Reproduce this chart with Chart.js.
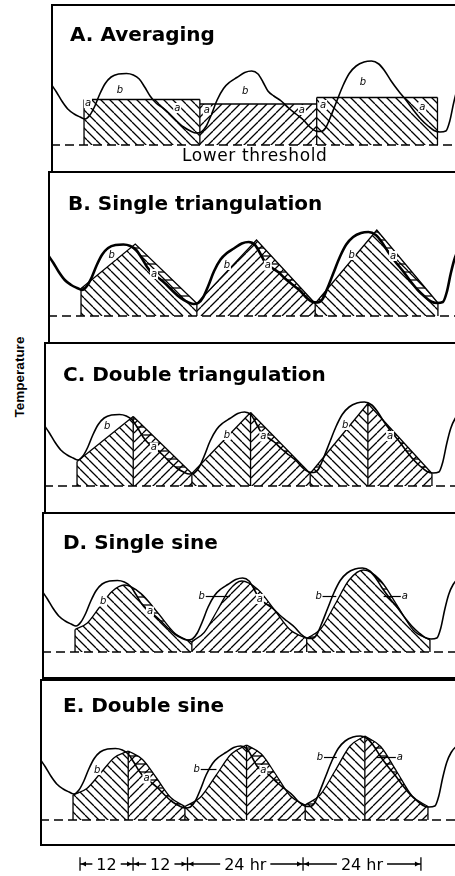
<!DOCTYPE html>
<html><head><meta charset="utf-8">
<script src="https://cdn.jsdelivr.net/npm/chart.js@4/dist/chart.umd.min.js"></script>
<style>
html,body{margin:0;padding:0;background:#fff;overflow:hidden;width:455px;height:876px;}
.panel{position:absolute;border:2px solid #000;box-sizing:border-box;}
canvas{position:absolute;}
.title{position:absolute;font:bold 20px "DejaVu Sans";line-height:20px;white-space:nowrap;color:#000;z-index:3;}
.note{position:absolute;font:17px "DejaVu Sans";line-height:17px;white-space:nowrap;color:#000;letter-spacing:0.6px;z-index:3;}
.ylab{position:absolute;left:-30px;top:369px;width:100px;text-align:center;font:bold 13.5px "Liberation Sans";line-height:16px;transform:rotate(-90deg);white-space:nowrap;}
</style></head><body>
<div class="ylab">Temperature</div>
<script>
// ---------------- data (hours from first minimum, temperature units above lower threshold) ----------------
const XMIN = -6.7, XMAX = 78.5;
const lowerThreshold = 0;
const hours = [-6.7,-5.6,-4.5,-3.3,-2.0,-0.8,0.2,1.2,2.2,3.2,4.3,5.5,7.0,8.6,10.0,11.2,12.3,13.4,14.6,16.0,17.4,18.8,20.2,21.6,22.8,23.8,24.8,25.8,27.0,28.3,29.6,31.0,32.6,34.0,35.3,36.3,37.3,38.5,40.0,41.5,43.0,44.5,45.8,47.0,48.0,49.0,50.0,51.2,52.5,53.8,55.2,56.8,58.3,59.8,61.0,62.3,63.8,65.3,66.8,68.3,69.8,71.0,72.2,73.4,74.2,75.0,75.8,76.7,78.5];
const temperature = [12.2,10.6,8.8,7.2,6.2,5.6,5.2,6.0,7.8,10.2,12.3,13.6,14.2,14.3,14.0,13.2,11.6,9.8,8.4,7.4,6.2,4.8,3.6,2.8,2.4,2.6,3.8,6.0,9.0,11.3,12.6,13.5,14.5,14.8,14.2,12.6,10.8,9.8,8.8,7.4,6.2,5.0,3.6,2.8,2.7,3.4,5.6,8.6,11.8,14.3,15.8,16.6,16.8,16.2,14.8,12.8,10.8,9.0,7.0,5.2,3.8,2.9,2.6,2.8,4.8,8.5,11.5,13.5,15.5];

// A. Averaging
const avgStartHour = [0, 23.5, 47.2];
const avgEndHour = [23.5, 47.2, 71.7];
const avgTemp = [9.1, 8.2, 9.5];

// B. Single triangulation
const triStartHour = [0, 23.5, 47.5];
const triStartTemp = [5.5, 2.5, 2.5];
const triPeakHour = [11, 35.6, 60];
const triPeakTemp = [14.4, 15.2, 17.2];
const triEndHour = [23.5, 47.5, 72.4];
const triEndTemp = [2.5, 2.5, 2.6];

// C. Double triangulation
const dtriStartHour = [0, 23.3, 47.3];
const dtriStartTemp = [4.9, 2.5, 2.5];
const dtriPeakHour = [11.4, 35.2, 59];
const dtriPeakTemp = [13.9, 14.7, 16.5];
const dtriEndHour = [23.3, 47.3, 72];
const dtriEndTemp = [2.5, 2.5, 2.5];

// D. Single sine
const sineHours = [[0,2.5,5,7.5,10,13.4,16.9,20.3,23.7],[23.7,26.2,28.8,31.3,33.8,37.1,40.4,43.7,47],[47,49.9,52.8,55.6,58.5,61.9,65.3,68.6,72]];
const sineTemp = [[4.5,5.8,9,12.1,13.4,11.7,7.7,3.7,2],[2.1,3.9,8.2,12.4,14.2,12.5,8.5,4.4,2.7],[2.7,4.7,9.6,14.4,16.4,14.4,9.4,4.4,2.4]];

// E. Double sine
const dsineRiseHours = [[0,2.8,5.6,8.4,11.2],[22.7,25.8,29,32.1,35.2],[47.1,50.1,53.2,56.2,59.2]];
const dsineRiseTemp = [[5,6.3,9.4,12.5,13.8],[2.7,4.5,8.9,13.2,15],[3,5,9.9,14.8,16.8]];
const dsineFallHours = [[11.2,14.1,17,19.8,22.7],[35.2,38.2,41.2,44.1,47.1],[59.2,62.4,65.6,68.8,72]];
const dsineFallTemp = [[13.8,12.1,8.3,4.5,2.7],[15,13.2,9,4.8,3],[16.8,14.7,9.8,4.8,2.7]];

// a / b area labels (hour, temperature)
const lettersA = [['b',7.3,11],['b',32.7,10.8],['b',56.6,12.6],['a',0.8,8.4],['a',18.9,7.4],['a',24.9,7],['a',44.2,7],['a',48.5,8],['a',68.6,7.6]];
const lettersB = [['b',6.2,12.2],['a',14.8,8.4],['b',29.6,10.2],['a',37.9,10.1],['b',54.9,12.2],['a',63.3,12]];
const lettersC = [['b',6.1,11.9],['a',15.6,7.7],['b',30.4,10.2],['a',37.8,9.9],['b',54.4,12.2],['a',63.5,10]];
const lettersD = [['b',5.7,10.1],['a',15.2,8.1],['b',25.7,11.1,31.4],['a',37.5,10.6],['b',49.4,11.1,53],['a',66.9,11.1,62.6]];
const lettersE = [['b',4.9,10],['a',14.9,8.3],['b',25.1,10.1,29.1],['a',38.6,10],['b',50.1,12.5,53.5],['a',66.3,12.5,61.6]];

// bottom time spans
const spanBounds = [0, 11.2, 22.7, 47.1, 72];
const spanLabels = ['12', '12', '24 hr', '24 hr'];

const panelTitles = ['A. Averaging','B. Single triangulation','C. Double triangulation','D. Single sine','E. Double sine'];

// ---------------- helpers ----------------
function pattern(ctx, dir) {
  const s = dir === '-' ? 8 : 9;
  const c = document.createElement('canvas'); c.width = s; c.height = s;
  const g = c.getContext('2d'); g.strokeStyle = '#000'; g.lineWidth = 1.3;
  g.beginPath();
  if (dir === '-') { g.moveTo(0, 4); g.lineTo(s, 4); }
  else {
    for (const o of [-s, 0, s]) {
      if (dir === '\\') { g.moveTo(o, 0); g.lineTo(o + s, s); }
      else { g.moveTo(o + s, 0); g.lineTo(o, s); }
    }
  }
  g.stroke();
  return ctx.createPattern(c, 'repeat');
}
function pts(xs, ys) { return xs.map((x, i) => ({x: x, y: ys[i]})); }

const letterPlugin = {
  id: 'letters',
  afterDatasetsDraw(chart, args, opts) {
    const items = opts.items || [];
    const {ctx} = chart; const x = chart.scales.x, y = chart.scales.y;
    ctx.save();
    ctx.font = 'italic 10px "DejaVu Sans"'; ctx.textAlign = 'center'; ctx.textBaseline = 'middle';
    ctx.strokeStyle = '#000'; ctx.lineWidth = 1.2;
    items.forEach(it => {
      const px = x.getPixelForValue(it[1]), py = y.getPixelForValue(it[2]);
      ctx.fillStyle = '#fff'; ctx.fillRect(px - 4, py - 5, 8, 10);
      ctx.fillStyle = '#000'; ctx.fillText(it[0], px, py);
      if (it[3] !== undefined) {
        const lx = x.getPixelForValue(it[3]);
        ctx.beginPath();
        if (lx > px) { ctx.moveTo(px + 4, py); ctx.lineTo(lx, py); } else { ctx.moveTo(lx, py); ctx.lineTo(px - 4, py); }
        ctx.stroke();
      }
    });
    ctx.restore();
  }
};

function makePanel(p) {
  const box = document.createElement('div'); box.className = 'panel';
  Object.assign(box.style, {left: p.L + 'px', top: (p.T - 1) + 'px', width: (470 - p.L) + 'px', height: (p.H + 2) + 'px'});
  document.body.appendChild(box);
  const t = document.createElement('div'); t.className = 'title'; t.textContent = p.title;
  Object.assign(t.style, {left: p.tx + 'px', top: p.ty + 'px'});
  document.body.appendChild(t);
  const cv = document.createElement('canvas'); cv.width = 420; cv.height = p.H;
  Object.assign(cv.style, {left: p.L + 'px', top: p.T + 'px', width: '420px', height: p.H + 'px'});
  document.body.appendChild(cv);
  const ctx = cv.getContext('2d');
  const datasets = [];
  datasets.push({data: pts(hours, temperature), borderColor: '#000', borderWidth: p.curveW, fill: false, pointRadius: 0, cubicInterpolationMode: 'monotone'});
  datasets.push({data: [{x: XMIN, y: lowerThreshold}, {x: XMAX, y: lowerThreshold}], borderColor: '#000', borderWidth: 1.6, borderDash: [9, 5], fill: false, pointRadius: 0});
  const vdata = [];
  p.verticals.forEach(v => { vdata.push({x: v[0], y: lowerThreshold}, {x: v[0], y: v[1]}, {x: v[0], y: null}); });
  datasets.push({data: vdata, borderColor: '#000', borderWidth: 1.3, fill: false, pointRadius: 0, spanGaps: false});
  p.shapes.forEach(s => {
    datasets.push({data: s.pts, borderColor: '#000', borderWidth: 1.3, fill: 'origin', backgroundColor: pattern(ctx, s.dir), pointRadius: 0, cubicInterpolationMode: s.smooth ? 'monotone' : 'default', tension: 0});
  });
  if (p.stripes) {
    const hp = pattern(ctx, '-');
    p.shapes.forEach(s => {
      datasets.push({data: s.pts, borderWidth: 0, borderColor: 'rgba(0,0,0,0)', fill: {target: 0, above: hp, below: 'rgba(0,0,0,0)'}, pointRadius: 0, cubicInterpolationMode: s.smooth ? 'monotone' : 'default', tension: 0});
    });
  }
  new Chart(ctx, {
    type: 'line',
    data: {datasets: datasets},
    options: {
      responsive: false, animation: false, devicePixelRatio: 1, events: [],
      layout: {padding: 0},
      scales: {x: {type: 'linear', min: XMIN, max: XMAX, display: false}, y: {type: 'linear', min: p.ymin, max: p.ymax, display: false}},
      plugins: {legend: {display: false}, tooltip: {enabled: false}, letters: {items: p.letters}}
    },
    plugins: [letterPlugin]
  });
}

// ---------------- panel A ----------------
const shapesA = avgTemp.map((v, i) => ({pts: [{x: avgStartHour[i], y: v}, {x: avgEndHour[i], y: v}], dir: i === 1 ? '/' : '\\'}));
const vertA = avgStartHour.map((h, i) => [h, Math.max(avgTemp[i], i > 0 ? avgTemp[i - 1] : 0)]);
vertA.push([avgEndHour[2], avgTemp[2]]);
makePanel({title: panelTitles[0], L: 51, T: 5, H: 167, ymin: -5.4, ymax: 28, tx: 70, ty: 24, curveW: 1.6, shapes: shapesA, verticals: vertA, letters: lettersA, stripes: false});
const lt = document.createElement('div'); lt.className = 'note'; lt.textContent = 'Lower threshold';
Object.assign(lt.style, {left: '182px', top: '147px'}); document.body.appendChild(lt);

// ---------------- panel B ----------------
const shapesB = triStartHour.map((h, i) => ({pts: [{x: h, y: triStartTemp[i]}, {x: triPeakHour[i], y: triPeakTemp[i]}, {x: triEndHour[i], y: triEndTemp[i]}], dir: i === 1 ? '/' : '\\'}));
const vertB = [];
triStartHour.forEach((h, i) => { vertB.push([h, triStartTemp[i]], [triEndHour[i], triEndTemp[i]]); });
makePanel({title: panelTitles[1], L: 48, T: 172, H: 171, ymin: -5.4, ymax: 28.8, tx: 68, ty: 193, curveW: 2.6, shapes: shapesB, verticals: vertB, letters: lettersB, stripes: true});

// ---------------- panel C ----------------
const shapesC = [];
const vertC = [];
dtriStartHour.forEach((h, i) => {
  shapesC.push({pts: [{x: h, y: dtriStartTemp[i]}, {x: dtriPeakHour[i], y: dtriPeakTemp[i]}], dir: '\\'});
  shapesC.push({pts: [{x: dtriPeakHour[i], y: dtriPeakTemp[i]}, {x: dtriEndHour[i], y: dtriEndTemp[i]}], dir: '/'});
  vertC.push([h, dtriStartTemp[i]], [dtriPeakHour[i], dtriPeakTemp[i]], [dtriEndHour[i], dtriEndTemp[i]]);
});
makePanel({title: panelTitles[2], L: 44, T: 343, H: 170, ymin: -5.4, ymax: 28.6, tx: 63, ty: 364, curveW: 1.6, shapes: shapesC, verticals: vertC, letters: lettersC, stripes: true});

// ---------------- panel D ----------------
const shapesD = sineHours.map((hs, i) => ({pts: pts(hs, sineTemp[i]), dir: i === 1 ? '/' : '\\', smooth: true}));
const vertD = [];
sineHours.forEach((hs, i) => { vertD.push([hs[0], sineTemp[i][0]], [hs[hs.length - 1], sineTemp[i][hs.length - 1]]); });
makePanel({title: panelTitles[3], L: 42, T: 513, H: 165, ymin: -5.2, ymax: 27.8, tx: 63, ty: 532, curveW: 1.6, shapes: shapesD, verticals: vertD, letters: lettersD, stripes: true});

// ---------------- panel E ----------------
const shapesE = [];
const vertE = [];
dsineRiseHours.forEach((hs, i) => {
  shapesE.push({pts: pts(hs, dsineRiseTemp[i]), dir: '\\', smooth: true});
  shapesE.push({pts: pts(dsineFallHours[i], dsineFallTemp[i]), dir: '/', smooth: true});
  vertE.push([hs[0], dsineRiseTemp[i][0]], [dsineFallHours[i][0], dsineFallTemp[i][0]], [dsineFallHours[i][4], dsineFallTemp[i][4]]);
});
makePanel({title: panelTitles[4], L: 40, T: 680, H: 165, ymin: -5, ymax: 28, tx: 63, ty: 695, curveW: 1.6, shapes: shapesE, verticals: vertE, letters: lettersE, stripes: true});

// ---------------- bottom time spans ----------------
const spanPlugin = {
  id: 'spans',
  afterDatasetsDraw(chart) {
    const {ctx} = chart; const x = chart.scales.x, y = chart.scales.y;
    const py = y.getPixelForValue(0);
    ctx.save();
    ctx.font = '16px "DejaVu Sans"'; ctx.textAlign = 'center'; ctx.textBaseline = 'alphabetic';
    ctx.fillStyle = '#000'; ctx.strokeStyle = '#000'; ctx.lineWidth = 1.3;
    for (let i = 0; i < spanLabels.length; i++) {
      const a = x.getPixelForValue(spanBounds[i]), b = x.getPixelForValue(spanBounds[i + 1]);
      const c = (a + b) / 2; const w = ctx.measureText(spanLabels[i]).width;
      ctx.fillText(spanLabels[i], c, py + 6);
      const l1 = c - w / 2 - 4, r1 = c + w / 2 + 4;
      ctx.beginPath(); ctx.moveTo(a, py); ctx.lineTo(l1, py); ctx.moveTo(r1, py); ctx.lineTo(b, py); ctx.stroke();
      ctx.beginPath();
      ctx.moveTo(a + 1, py); ctx.lineTo(a + 6, py - 2.5); ctx.lineTo(a + 6, py + 2.5); ctx.closePath();
      ctx.moveTo(b - 1, py); ctx.lineTo(b - 6, py - 2.5); ctx.lineTo(b - 6, py + 2.5); ctx.closePath();
      ctx.fill();
    }
    ctx.restore();
  }
};
(function () {
  const cv = document.createElement('canvas'); cv.width = 420; cv.height = 30;
  Object.assign(cv.style, {left: '40px', top: '849px', width: '420px', height: '30px'});
  document.body.appendChild(cv);
  new Chart(cv.getContext('2d'), {
    type: 'line',
    data: {datasets: [{data: spanBounds.map(h => ({x: h, y: 0})), showLine: false, pointStyle: 'line', rotation: 90, pointRadius: 7, borderColor: '#000', borderWidth: 1.3}]},
    options: {
      responsive: false, animation: false, devicePixelRatio: 1, events: [], layout: {padding: 0},
      scales: {x: {type: 'linear', min: XMIN, max: XMAX, display: false}, y: {type: 'linear', min: -1, max: 1, display: false}},
      plugins: {legend: {display: false}, tooltip: {enabled: false}}
    },
    plugins: [spanPlugin]
  });
})();
</script>
</body></html>
